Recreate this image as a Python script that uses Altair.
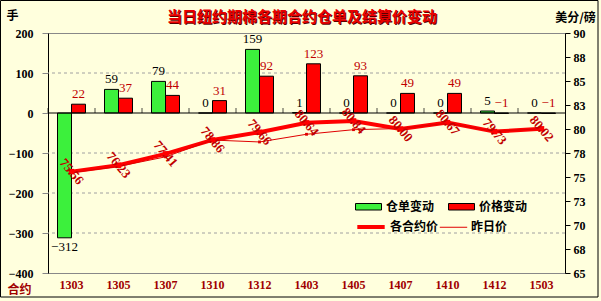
import altair as alt
import pandas as pd

contracts = ["1303", "1305", "1307", "1310", "1312", "1403", "1405", "1407", "1410", "1412", "1503"]
warrant_change = [-312, 59, 79, 0, 159, 1, 0, 0, 0, 5, 0]
price_change = [22, 37, 44, 31, 92, 123, 93, 49, 49, -1, -1]
settle_price = [75.56, 76.23, 77.41, 78.86, 79.66, 80.64, 80.84, 80.00, 80.67, 79.73, 80.02]
prev_price = [75.45, 76.10, 77.10, 78.85, 78.65, 79.45, 79.93, 80.05, 80.60, 79.75, 80.03]

bar_series = ["仓单变动", "价格变动"]
line_series = ["各合约价", "昨日价"]
left_ticks = [-400, -300, -200, -100, 0, 100, 200]
right_ticks = [65, 67.5, 70, 72.5, 75, 77.5, 80, 82.5, 85, 87.5, 90]
chart_title = "当日纽约期棉各期合约仓单及结算价变动"

n = len(contracts)
df_bar = pd.DataFrame({
    "contract": contracts * 2,
    "series": [bar_series[0]] * n + [bar_series[1]] * n,
    "value": warrant_change + price_change,
})
df_line = pd.DataFrame({
    "contract": contracts * 2,
    "series": [line_series[0]] * n + [line_series[1]] * n,
    "price": settle_price + prev_price,
})
df_grid = pd.DataFrame({"g": left_ticks})

CJK = "Noto Sans CJK SC"
NUM = "Liberation Serif"
DARKRED = "#A00000"
LABELRED = "#C00000"

xscale = alt.Scale(domain=contracts, paddingInner=0, paddingOuter=0)
x_axis = alt.Axis(orient="bottom", title="合约", labelAngle=0, ticks=False,
                  domainColor="#888888", labelPadding=6,
                  labelFont=NUM, labelFontSize=12, labelFontWeight="bold",
                  labelColor=DARKRED,
                  titleFont=CJK, titleFontSize=12, titleFontWeight="bold",
                  titleColor=DARKRED, titleAngle=0, titleX=-29, titleY=16,
                  titleAlign="center", titleBaseline="middle")
x_main = alt.X("contract:N", sort=contracts, scale=xscale, axis=x_axis)
xoff = alt.XOffset("series:N", scale=alt.Scale(domain=bar_series, paddingOuter=0.68, paddingInner=0))

yleft_scale = alt.Scale(domain=[-400, 200], nice=False)
yleft_axis = alt.Axis(values=left_ticks, format="d", title="手", labelOverlap=False,
                      grid=False,
                      domainColor="black", tickColor="#888888", tickSize=6,
                      labelPadding=9, labelFont=NUM, labelFontSize=12,
                      labelFontWeight="bold", labelColor="black",
                      titleFont=CJK, titleFontSize=12, titleFontWeight="bold",
                      titleColor="black", titleAngle=0, titleX=-36, titleY=-18,
                      titleAlign="center", titleBaseline="middle")
y_left = alt.Y("value:Q", scale=yleft_scale, axis=yleft_axis)
y_zero = alt.YDatum(0, type="quantitative", scale=yleft_scale, axis=yleft_axis)

grid = alt.Chart(df_grid).transform_filter(
    "datum.g != 0 && datum.g > -400 && datum.g < 200").mark_rule(
    color="#A0A0A0", strokeWidth=1, strokeDash=[3, 3]).encode(
    y=alt.Y("g:Q", scale=yleft_scale, axis=yleft_axis)
)

bars = alt.Chart(df_bar).mark_bar(stroke="black", strokeWidth=1).encode(
    x=x_main,
    xOffset=xoff,
    y=y_left,
    fill=alt.Fill("series:N", scale=alt.Scale(domain=bar_series, range=["#3CF03C", "#FF0000"]),
                  legend=alt.Legend(title=None, orient="none", legendX=307, legendY=160,
                                    direction="horizontal", columnPadding=11,
                                    symbolType="M-1,-0.25H1V0.25H-1Z", symbolSize=676,
                                    symbolStrokeColor="black", symbolStrokeWidth=1,
                                    labelFont=CJK, labelFontSize=12, labelFontWeight="bold",
                                    labelColor="black", labelOffset=4)),
)

label_color = alt.Color("series:N", scale=alt.Scale(domain=bar_series, range=["black", LABELRED]),
                        legend=None)

labels_up = alt.Chart(df_bar).transform_filter("datum.value > -50").transform_calculate(
    ly="max(datum.value, 0)"
).mark_text(baseline="bottom", dy=-3, font=NUM, fontSize=13).encode(
    x=x_main, xOffset=xoff,
    y=alt.Y("ly:Q", scale=yleft_scale, axis=yleft_axis),
    text=alt.Text("value:Q", format="d"),
    color=label_color,
)
labels_down = alt.Chart(df_bar).transform_filter("datum.value <= -50").mark_text(
    baseline="top", dy=3, font=NUM, fontSize=13).encode(
    x=x_main, xOffset=xoff,
    y=y_left,
    text=alt.Text("value:Q", format="d"),
    color=label_color,
)

zero_rule = alt.Chart(pd.DataFrame({"z": [0]})).mark_rule(color="black", strokeWidth=1).encode(
    y=y_zero
)
band_ticks = alt.Chart(pd.DataFrame({"contract": contracts})).mark_tick(
    color="black", orient="vertical", size=5, thickness=1, yOffset=-2.5).encode(
    x=alt.X("contract:N", sort=contracts, scale=xscale, axis=x_axis, bandPosition=0),
    y=y_zero,
)
frame = alt.Chart(pd.DataFrame({"z": [0]})).mark_rect(
    fillOpacity=0, stroke="black", strokeWidth=1).encode(
    x=alt.value(-47.5), x2=alt.value(550), y=alt.value(-32.5), y2=alt.value(264)
)
title_df = pd.DataFrame({"t": [chart_title]})
title_shadow = alt.Chart(title_df).mark_text(
    font=CJK, fontSize=15, fontWeight="bold", color="#5A0000",
    align="center", baseline="middle", dx=1, dy=1).encode(
    text="t:N", x=alt.value(254), y=alt.value(-16)
)
title_text = alt.Chart(title_df).mark_text(
    font=CJK, fontSize=15, fontWeight="bold", color="#E80000",
    align="center", baseline="middle").encode(
    text="t:N", x=alt.value(254), y=alt.value(-16)
)

left = alt.layer(grid, bars, zero_rule, band_ticks, labels_up, labels_down, frame,
                 title_shadow, title_text)

yright_scale = alt.Scale(domain=[65, 90], nice=False)
yright_axis = alt.Axis(orient="right", values=right_ticks, format=".0f", title="美分/磅",
                       labelOverlap=False,
                       grid=False, domainColor="black", tickColor="black", tickSize=5,
                       labelPadding=3, labelFont=NUM, labelFontSize=12,
                       labelFontWeight="bold", labelColor="black",
                       titleFont=CJK, titleFontSize=12, titleFontWeight="bold",
                       titleColor="black", titleAngle=0, titleX=10, titleY=-16,
                       titleAlign="center", titleBaseline="middle")
y_right = alt.Y("price:Q", scale=yright_scale, axis=yright_axis)

line_legend = alt.Legend(title=None, orient="none", legendX=307, legendY=178,
                         direction="horizontal", columnPadding=-3,
                         symbolType="stroke", symbolSize=750,
                         labelFont=CJK, labelFontSize=12, labelFontWeight="bold",
                         labelColor="black", labelOffset=3)

lines = alt.Chart(df_line).mark_line().encode(
    x=x_main,
    y=y_right,
    stroke=alt.Stroke("series:N", scale=alt.Scale(domain=line_series, range=["#FF0000", "#E00000"]),
                      legend=line_legend),
    strokeWidth=alt.StrokeWidth("series:N", scale=alt.Scale(domain=line_series, range=[4, 1]),
                                legend=line_legend),
    detail="series:N",
)
pts_main = alt.Chart(df_line).transform_filter(
    alt.datum.series == line_series[0]).mark_point(
    shape="square", filled=True, size=30, color="#FF0000", opacity=1).encode(
    x=x_main, y=y_right)
pts_prev = alt.Chart(df_line).transform_filter(
    alt.datum.series == line_series[1]).mark_point(
    shape="square", filled=True, size=8, color="#E00000", opacity=1).encode(
    x=x_main, y=y_right)
price_labels = alt.Chart(df_line).transform_filter(
    alt.datum.series == line_series[0]).mark_text(
    angle=50, align="center", baseline="middle", font=NUM, fontSize=13, fontWeight="bold",
    color=LABELRED).encode(
    x=x_main, y=y_right, text=alt.Text("price:Q", format=".2f"))

right = alt.layer(lines, pts_prev, pts_main, price_labels)

chart = alt.layer(left, right).resolve_scale(y="independent").properties(
    width=517, height=240,
    padding={"left": 48, "top": 33, "right": 36, "bottom": 28},
    autosize=alt.AutoSizeParams(type="none"),
    background="#FFFFDD",
).configure_view(stroke="#888888")

chart.save("out.html", embed_options={"renderer": "svg", "actions": False})
